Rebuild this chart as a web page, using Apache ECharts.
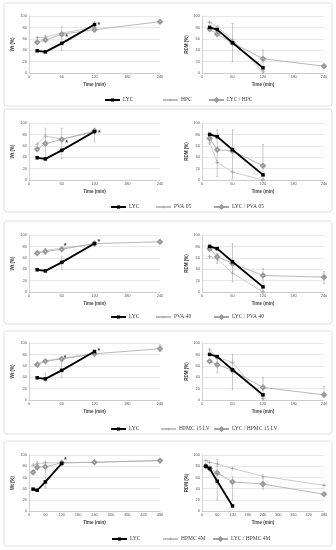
<!DOCTYPE html>
<html><head><meta charset="utf-8">
<script src="https://cdn.jsdelivr.net/npm/echarts@6/dist/echarts.min.js"></script>
<style>html,body{margin:0;padding:0;background:#fff;}#c{width:336px;height:550px;}</style>
</head><body><div id="c"></div>
<script>
// ---- data ----
const timeA = [15, 30, 60, 120];
const timeB = [15, 30, 60, 120, 240];
const timeC = [15, 30, 60, 120, 240, 480];
const lycW = [39, 37, 52, 85];
const lycR = [80, 76, 53, 9];
// panel 1 (HPC)
const hpcW = [62, 63, 70, 80];
const lycHpcW = [54, 58, 68, 76, 90];
const hpcR = [89, 81, 58, 2];
const lycHpcR = [77, 68, 53, 25, 12];
// panel 2 (PVA 05)
const pva05W = [63, 77, 72, 84];
const lycPva05W = [54, 64, 71, 86];
const pva05R = [65, 31, 14, 0];
const lycPva05R = [73, 53, 51, 25];
// panel 3 (PVA 40)
const pva40W = [70, 73, 77, 84];
const lycPva40W = [68, 71, 75, 85, 88];
const pva40R = [62, 58, 33, 0];
const lycPva40R = [76, 62, 50, 29, 26];
// panel 4 (HPMC 15 LV)
const hpmcLvW = [64, 69, 73, 82];
const lycHpmcLvW = [62, 68, 72, 81, 90];
const hpmcLvR = [88, 75, 66, 3];
const lycHpmcLvR = [68, 62, 52, 22, 9];
// panel 5 (HPMC 4M)
const hpmc4mW = [82, 84, 86, 86, 87, 90];
const lycHpmc4mW = [69, 78, 79, 86, 87, 90];
const hpmc4mR = [90, 87, 84, 76, 62, 46];
const lycHpmc4mR = [80, 76, 68, 52, 48, 30];
// error bars [time, low, high]
const err1W = [[30, 55, 66], [60, 40, 81], [120, 72, 90]];
const err1R = [[60, 20, 87], [120, 0, 40]];
const err2W = [[30, 35, 91], [60, 38, 91], [120, 67, 91]];
const err2R = [[30, 6, 88], [60, 2, 88], [120, 0, 62]];
const err3W = [[30, 66, 76], [60, 39, 62]];
const err3R = [[30, 50, 68], [60, 18, 85], [120, 0, 41], [240, 15, 36]];
const err4W = [[30, 33, 47], [60, 39, 68], [240, 85, 97]];
const err4R = [[30, 48, 71], [60, 18, 80], [120, 0, 39], [240, 6, 24]];
const err5W = [[30, 80, 88], [60, 41, 89]];
const err5R = [[60, 20, 92], [120, 20, 62], [240, 39, 59]];
// significance asterisks [time, value]
const sig1 = [[69, 65], [128, 86]];
const sig2 = [[69, 67], [129, 85]];
const sig3 = [[66, 84], [128, 90]];
const sig4 = [[66, 77], [128, 88]];
const sig5 = [[133, 93]];
const xTicksShort = 240, xTicksLong = 480;

// ---- build ----
const zip = (t, v) => v.map((y, i) => [t[i], y]);
const grids = [], xAxes = [], yAxes = [], series = [], legends = [], graphics = [];
const axisLab = {fontSize: 4, color: '#595959', fontFamily: 'Liberation Sans', margin: 2};
const nameSt = {fontSize: 4.5, color: '#404040', fontWeight: 'bold', fontFamily: 'Liberation Sans'};

function addGrid(left, top, width, height, xmax, yname, nameGap) {
  const i = grids.length;
  grids.push({left, top, width, height});
  xAxes.push({gridIndex: i, type: 'value', min: 0, max: xmax, interval: 60,
    axisLine: {show: true, lineStyle: {color: '#bfbfbf', width: 0.7}}, axisTick: {show: false},
    splitLine: {show: false}, axisLabel: axisLab,
    name: 'Time (min)', nameLocation: 'middle', nameGap: 9, nameTextStyle: nameSt});
  yAxes.push({gridIndex: i, type: 'value', min: 0, max: 100, interval: 20,
    axisLine: {show: true, lineStyle: {color: '#bfbfbf', width: 0.7}}, axisTick: {show: false},
    splitLine: {show: true, lineStyle: {color: '#d9d9d9', width: 0.6}}, axisLabel: axisLab,
    name: yname, nameLocation: 'middle', nameGap: nameGap, nameTextStyle: nameSt});
  return i;
}
function lineSeries(gi, name, t, v, kind) {
  const s = {type: 'line', name, xAxisIndex: gi, yAxisIndex: gi, data: zip(t, v), silent: true, animation: false};
  if (kind === 'lyc') {
    Object.assign(s, {symbol: 'rect', symbolSize: 3.5, z: 5,
      lineStyle: {color: '#000', width: 1.8}, itemStyle: {color: '#000'}});
  } else if (kind === 'poly') {
    Object.assign(s, {symbol: 'path://M4,0H6V4H10V6H6V10H4V6H0V4H4Z', symbolSize: 4, z: 3,
      lineStyle: {color: '#bfbfbf', width: 0.8}, itemStyle: {color: '#a6a6a6'}});
  } else {
    Object.assign(s, {symbol: 'emptyDiamond', symbolSize: 3.8, z: 4,
      lineStyle: {color: '#a6a6a6', width: 0.8}, itemStyle: {color: '#999999', borderWidth: 0.6}});
  }
  series.push(s);
}
function errSeries(gi, data) {
  series.push({type: 'custom', xAxisIndex: gi, yAxisIndex: gi, data, silent: true, z: 2, animation: false,
    renderItem: (p, api) => {
      const a = api.coord([api.value(0), api.value(1)]);
      const b = api.coord([api.value(0), api.value(2)]);
      const st = {stroke: '#a6a6a6', lineWidth: 0.6};
      return {type: 'group', children: [
        {type: 'line', shape: {x1: a[0], y1: a[1], x2: b[0], y2: b[1]}, style: st},
        {type: 'line', shape: {x1: a[0] - 1, y1: a[1], x2: a[0] + 1, y2: a[1]}, style: st},
        {type: 'line', shape: {x1: b[0] - 1, y1: b[1], x2: b[0] + 1, y2: b[1]}, style: st}]};
    }});
}
function sigSeries(gi, data) {
  series.push({type: 'scatter', xAxisIndex: gi, yAxisIndex: gi, data, silent: true, symbolSize: 1, z: 6,
    itemStyle: {color: 'rgba(0,0,0,0)'}, animation: false,
    label: {show: true, position: 'inside', formatter: '*', fontSize: 7, fontWeight: 'bold', color: '#000', offset: [0, 1.5]}});
}
function addLegend(names, xs, y) {
  names.forEach((n, k) => legends.push({data: [n], left: xs[k], top: y, itemWidth: 15, itemHeight: 4,
    selectedMode: false, padding: 0,
    textStyle: {fontSize: 5.5, color: '#404040', fontFamily: 'Liberation Serif', padding: [0, 0, 0, -2]}}));
}
function panel(box, gTop, gH, xmax, tW, tR, poly, comb, pW, cW, pR, cR, eW, eR, sig, legY, legX, tPoly) {
  graphics.push({type: 'rect', shape: {x: box[0], y: box[1], width: box[2], height: box[3], r: 3},
    style: {fill: '#fff', stroke: '#d9d9d9', lineWidth: 0.8}, z: -10});
  const gl = addGrid(29, gTop, 131, gH, xmax, 'Wt (%)', 14);
  const gr = addGrid(202, gTop, 122, gH, xmax, 'RDM (%)', 11);
  errSeries(gl, eW); errSeries(gr, eR);
  lineSeries(gl, poly, tPoly, pW, 'poly');
  lineSeries(gl, comb, tW, cW, 'comb');
  lineSeries(gl, 'LYC', timeA, lycW, 'lyc');
  lineSeries(gr, poly, tPoly, pR, 'poly');
  lineSeries(gr, comb, tR, cR, 'comb');
  lineSeries(gr, 'LYC', timeA, lycR, 'lyc');
  sigSeries(gl, sig);
  addLegend(['LYC', poly, comb], legX, legY);
}
panel([4, 3, 328, 103], 16, 57, xTicksShort, timeB, timeB, 'HPC', 'LYC / HPC', hpcW, lycHpcW, hpcR, lycHpcR, err1W, err1R, sig1, 97, [104, 162, 208], timeA);
panel([4, 109, 328, 103], 123, 57, xTicksShort, timeA, timeA, 'PVA 05', 'LYC / PVA 05', pva05W, lycPva05W, pva05R, lycPva05R, err2W, err2R, sig2, 204, [110, 155, 213], timeA);
panel([4, 221, 328, 103], 235, 57, xTicksShort, timeB, timeB, 'PVA 40', 'LYC / PVA 40', pva40W, lycPva40W, pva40R, lycPva40R, err3W, err3R, sig3, 314, [110, 155, 213], timeA);
panel([4, 331, 328, 103], 343, 57, xTicksShort, timeB, timeB, 'HPMC 15 LV', 'LYC / HPMC 15 LV', hpmcLvW, lycHpmcLvW, hpmcLvR, lycHpmcLvR, err4W, err4R, sig4, 426, [110, 160, 213], timeA);
panel([4, 441, 328, 105], 455, 56, xTicksLong, timeC, timeC, 'HPMC 4M', 'LYC / HPMC 4M', hpmc4mW, lycHpmc4mW, hpmc4mR, lycHpmc4mR, err5W, err5R, sig5, 536, [111, 162, 212], timeC);

const chart = echarts.init(document.getElementById('c'), null, {renderer: 'canvas'});
chart.setOption({backgroundColor: '#fff', animation: false, grid: grids, xAxis: xAxes, yAxis: yAxes,
  series, legend: legends, graphic: graphics});
</script></body></html>
